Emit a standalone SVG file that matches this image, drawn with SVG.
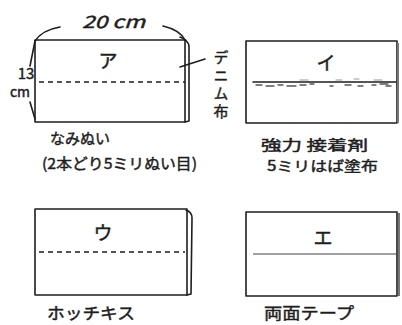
<svg xmlns="http://www.w3.org/2000/svg" width="402" height="325" viewBox="0 0 402 325">
<style>
.ln{fill:none;stroke:#1e1e1e;stroke-width:1.6;stroke-linecap:round;stroke-linejoin:round}
.thin{fill:none;stroke:#777;stroke-width:2}
.dash{fill:none;stroke:#1e1e1e;stroke-width:1.5;stroke-dasharray:5 4}
.t{font-family:"Noto Sans CJK JP","Noto Sans",sans-serif;fill:#1e1e1e;stroke:#1e1e1e;stroke-width:0.45}
.tc{text-anchor:middle}
</style>
<rect width="402" height="325" fill="#ffffff"/>
<g id="panel-a">
<rect class="ln" x="35" y="40" width="150" height="82"/>
<path class="ln" d="M180,37 Q188,40 189,46 L189,121 L185,122"/>
<line class="dash" x1="39" y1="82" x2="185" y2="82"/>
<text class="t tc" x="108" y="68" font-size="19">ア</text>
<text class="t" x="82" y="28" font-size="17" font-style="italic" textLength="63" lengthAdjust="spacingAndGlyphs">20 cm</text>
<path class="ln" d="M35,41 Q42,30 60,27"/>
<path class="ln" d="M163,26 Q180,30 185,40"/>
<path class="ln" d="M35,41 L30,66"/>
<path class="ln" d="M30,102 L35,119"/>
<text class="t tc" x="26" y="79" font-size="15">13</text>
<text class="t tc" x="20" y="97" font-size="14">cm</text>
<text class="t" x="50" y="144" font-size="15" textLength="60" lengthAdjust="spacingAndGlyphs">なみぬい</text>
<text class="t" x="42" y="169" font-size="15" textLength="155" lengthAdjust="spacingAndGlyphs">(2本どり5ミリぬい目)</text>
</g>
<g id="denim-label">
<text class="t" x="221" y="50" font-size="15" writing-mode="vertical-rl" letter-spacing="3">デニム布</text>
</g>
<g id="panel-i">
<rect class="ln" x="246" y="41" width="151" height="82"/>
<line class="thin" x1="398" y1="43" x2="398" y2="123"/>
<line class="ln" x1="253" y1="82" x2="396" y2="82" stroke-width="1.3"/>
<path d="M256,85 h6 M266,86 h8 M278,85 h5 M287,86 h9 M300,85 h6 M310,84 h4 M330,86 h3 M345,85 h6 M358,86 h5 M372,85 h4 M380,84 h8 M386,86 h5" fill="none" stroke="#555" stroke-width="1.3" stroke-linecap="round"/>
<path d="M300,80 h8 M336,80 h6 M354,79 h5 M374,80 h8" fill="none" stroke="#999" stroke-width="1" stroke-linecap="round"/>
<text class="t tc" x="326" y="70" font-size="19">イ</text>
<text class="t" x="261" y="150" font-size="14" textLength="107" lengthAdjust="spacingAndGlyphs">強力 接着剤</text>
<text class="t" x="267" y="171" font-size="14" textLength="111" lengthAdjust="spacingAndGlyphs">5ミリはば塗布</text>
</g>
<g id="panel-u">
<rect class="ln" x="35" y="209" width="152" height="86"/>
<path class="ln" d="M186,210 Q192,212 192,218 L191,294 L187,295"/>
<line class="dash" x1="39" y1="252" x2="185" y2="252"/>
<text class="t tc" x="103" y="240" font-size="19">ウ</text>
<text class="t" x="47" y="319" font-size="16" textLength="88" lengthAdjust="spacingAndGlyphs">ホッチキス</text>
</g>
<g id="panel-e">
<rect class="ln" x="246" y="212" width="151" height="84"/>
<line class="thin" x1="399" y1="213" x2="399" y2="296"/>
<line x1="253" y1="254" x2="397" y2="254" stroke="#444" stroke-width="1.2"/>
<text class="t tc" x="323" y="245" font-size="19">エ</text>
<text class="t" x="264" y="319" font-size="16" textLength="90" lengthAdjust="spacingAndGlyphs">両面テープ</text>
</g>
<g id="connectors">
<line class="ln" x1="180" y1="67" x2="205" y2="59"/>
</g>
</svg>
